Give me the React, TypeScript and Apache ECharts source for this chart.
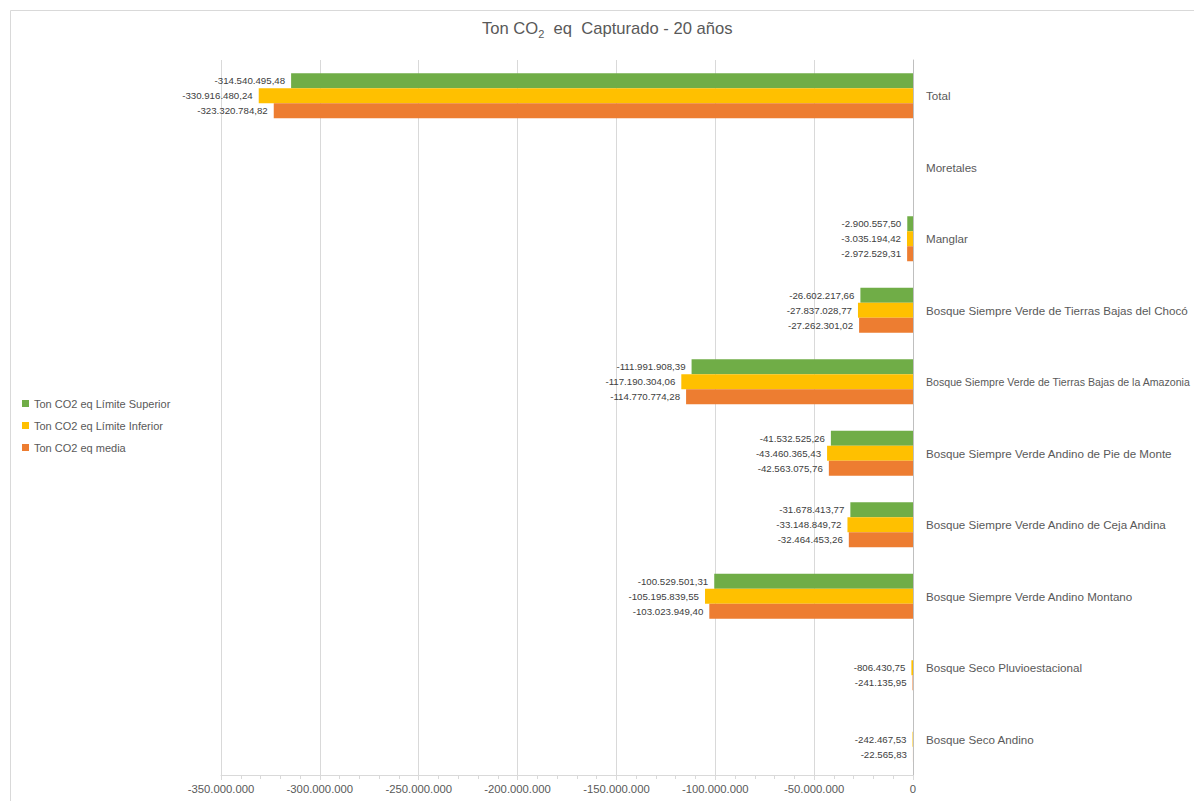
import React, { useEffect, useRef } from "react";
import * as echarts from "echarts";

const categories = [
  "Bosque Seco Andino",
  "Bosque Seco Pluvioestacional",
  "Bosque Siempre Verde Andino Montano",
  "Bosque Siempre Verde Andino de Ceja Andina",
  "Bosque Siempre Verde Andino de Pie de Monte",
  "Bosque Siempre Verde de Tierras Bajas de la Amazonia",
  "Bosque Siempre Verde de Tierras Bajas del Chocó",
  "Manglar",
  "Moretales",
  "Total",
];

const limiteSuperior = [
  null, null, -100529501.31, -31678413.77, -41532525.26, -111991908.39,
  -26602217.66, -2900557.5, null, -314540495.48,
];
const limiteInferior = [
  -242467.53, -806430.75, -105195839.55, -33148849.72, -43460365.43,
  -117190304.06, -27837028.77, -3035194.42, null, -330916480.24,
];
const media = [
  -22565.83, -241135.95, -103023949.4, -32464453.26, -42563075.76,
  -114770774.28, -27262301.02, -2972529.31, null, -323320784.82,
];

const seriesNames = [
  "Ton CO2 eq Límite Superior",
  "Ton CO2 eq Límite Inferior",
  "Ton CO2 eq media",
];
const colors = ["#70AD47", "#FFC000", "#ED7D31"];

const FONT = "Liberation Sans, Arial, sans-serif";

function fmt(v: number, decimals: number): string {
  const neg = v < 0;
  const fixed = Math.abs(v).toFixed(decimals);
  const [intPart, decPart] = fixed.split(".");
  const grouped = intPart.replace(/\B(?=(\d{3})+(?!\d))/g, ".");
  return (neg ? "-" : "") + grouped + (decPart ? "," + decPart : "");
}

export default function App() {
  const ref = useRef<HTMLDivElement>(null);
  useEffect(() => {
    if (!ref.current) return;
    const chart = echarts.init(ref.current, null, { renderer: "svg" });
    const dataSets = [limiteSuperior, limiteInferior, media];
    // the longest category label is drawn slightly smaller so it fits on the page
    const axisData = categories.map((c) =>
      c.length > 50 ? { value: c, textStyle: { fontSize: 10.6 } } : c
    );
    chart.setOption({
      animation: false,
      backgroundColor: "#ffffff",
      title: {
        text: "Ton CO{sub|2}  eq  Capturado - 20 años",
        left: 482,
        top: 17,
        padding: 0,
        textStyle: {
          fontFamily: FONT,
          fontSize: 16.6,
          fontWeight: "normal",
          color: "#595959",
          lineHeight: 22,
          rich: {
            sub: {
              fontFamily: FONT,
              fontSize: 11,
              color: "#595959",
              lineHeight: 8,
              verticalAlign: "bottom",
            },
          },
        },
      },
      legend: {
        orient: "vertical",
        left: 22,
        top: 398,
        padding: 0,
        itemWidth: 7,
        itemHeight: 7,
        itemGap: 11,
        icon: "rect",
        data: seriesNames,
        textStyle: { fontFamily: FONT, fontSize: 11, color: "#595959" },
      },
      graphic: [
        {
          type: "rect",
          shape: { x: 10.5, y: 10.5, width: 1200, height: 800 },
          style: { fill: "none", stroke: "#d9d9d9", lineWidth: 1 },
          silent: true,
        },
      ],
      grid: {
        left: 221,
        right: 281,
        top: 60,
        bottom: 26,
        containLabel: false,
        outerBoundsMode: "none",
      },
      xAxis: {
        type: "value",
        min: -350000000,
        max: 0,
        interval: 50000000,
        axisLine: { show: true, lineStyle: { color: "#d9d9d9" } },
        axisTick: { show: true, length: 5, lineStyle: { color: "#d9d9d9" } },
        minorTick: { show: true, splitNumber: 5, length: 4, lineStyle: { color: "#d9d9d9" } },
        splitLine: { show: true, lineStyle: { color: "#d9d9d9" } },
        axisLabel: {
          fontFamily: FONT,
          fontSize: 11.3,
          color: "#595959",
          margin: 8,
          formatter: (v: number) => fmt(v, 0),
        },
      },
      yAxis: {
        type: "category",
        data: axisData,
        position: "right",
        axisLine: { show: true, lineStyle: { color: "#bfbfbf" } },
        axisTick: { show: false },
        splitLine: { show: false },
        axisLabel: {
          fontFamily: FONT,
          fontSize: 11.6,
          color: "#595959",
          margin: 13,
        },
      },
      series: seriesNames.map((name, i) => ({
        name,
        type: "bar",
        data: dataSets[i],
        barWidth: 15,
        barGap: "0%",
        itemStyle: { color: colors[i] },
        label: {
          show: true,
          position: "left",
          distance: 6,
          fontFamily: FONT,
          fontSize: 9.7,
          color: "#404040",
          formatter: (p: any) => (p.value == null ? "" : fmt(p.value, 2)),
        },
      })),
    });
    return () => chart.dispose();
  }, []);
  return (
    <div
      ref={ref}
      style={{ position: "absolute", left: 0, top: 0, width: 1194, height: 801 }}
    />
  );
}
